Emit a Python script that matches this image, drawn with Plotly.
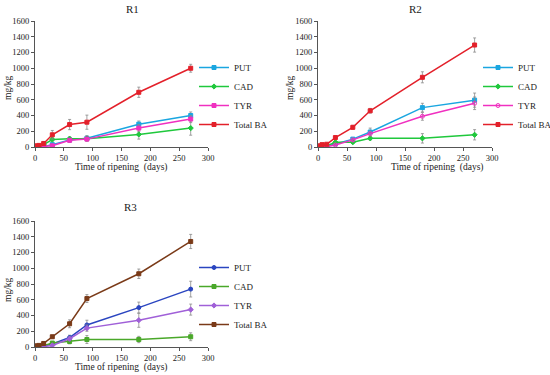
import plotly.graph_objects as go

days = [0, 7, 15, 30, 60, 90, 180, 270]
series_names = ["PUT", "CAD", "TYR", "Total BA"]

# R1
r1_put = [5, 5, 8, 30, 90, 110, 290, 400]
r1_cad = [5, 10, 30, 95, 105, 105, 160, 240]
r1_tyr = [2, 3, 5, 15, 85, 100, 240, 355]
r1_tot = [15, 20, 45, 155, 285, 315, 695, 1000]
r1_put_err = [3, 3, 5, 15, 30, 35, 40, 45]
r1_cad_err = [3, 5, 10, 20, 25, 25, 60, 90]
r1_tyr_err = [2, 2, 3, 10, 20, 20, 45, 45]
r1_tot_err = [8, 10, 15, 55, 65, 90, 65, 50]

# R2
r2_put = [5, 5, 10, 40, 100, 190, 500, 595]
r2_cad = [5, 10, 15, 60, 60, 110, 110, 155]
r2_tyr = [2, 3, 5, 25, 90, 170, 390, 555]
r2_tot = [15, 30, 35, 120, 250, 460, 885, 1295]
r2_put_err = [3, 3, 5, 10, 20, 50, 55, 90]
r2_cad_err = [3, 5, 5, 15, 15, 20, 60, 65]
r2_tyr_err = [2, 2, 3, 10, 20, 30, 50, 80]
r2_tot_err = [8, 10, 10, 20, 25, 30, 70, 90]

# R3
r3_put = [5, 5, 10, 40, 120, 280, 500, 735]
r3_cad = [5, 10, 15, 50, 70, 95, 95, 130]
r3_tyr = [2, 3, 5, 20, 105, 240, 340, 475]
r3_tot = [15, 20, 45, 130, 295, 615, 930, 1340]
r3_put_err = [3, 3, 5, 15, 30, 60, 70, 100]
r3_cad_err = [3, 5, 5, 15, 30, 50, 40, 50]
r3_tyr_err = [2, 2, 3, 10, 25, 40, 90, 70]
r3_tot_err = [8, 10, 10, 20, 50, 50, 60, 90]

panel_titles = ["R1", "R2", "R3"]
x_title = "Time of ripening  (days)"
y_title = "mg/kg"
x_ticks = [0, 50, 100, 150, 200, 250, 300]
y_ticks = [0, 200, 400, 600, 800, 1000, 1200, 1400, 1600]

colors12 = ["#1aa6e0", "#1fc83c", "#f030c0", "#e3202a"]
colors3 = ["#2a45c0", "#4aa82a", "#a060d8", "#7a3a18"]
symbols12 = ["square", "diamond", "square", "square"]
symbols2 = ["square", "diamond", "circle-open", "square"]
symbols3 = ["circle", "square", "diamond", "square"]

panels = [
    ([r1_put, r1_cad, r1_tyr, r1_tot], [r1_put_err, r1_cad_err, r1_tyr_err, r1_tot_err], colors12, symbols12),
    ([r2_put, r2_cad, r2_tyr, r2_tot], [r2_put_err, r2_cad_err, r2_tyr_err, r2_tot_err], colors12, symbols2),
    ([r3_put, r3_cad, r3_tyr, r3_tot], [r3_put_err, r3_cad_err, r3_tyr_err, r3_tot_err], colors3, symbols3),
]

W, H = 550, 375
# plot areas in pixels: (left, right, top, bottom)
areas = [(35, 208, 21, 147), (318, 492, 21, 147), (35, 208, 221, 347)]
legend_pos = [(194, 96), (478, 96), (194, 296)]
title_pos = [(132, 9), (415, 9), (130, 207)]
xlab_pos = [(121, 167), (437, 167), (121, 367)]
ylab_pos = [(8, 88), (290, 88), (8, 290)]

FONT = "Liberation Serif"
fig = go.Figure()
legend_ids = ["legend", "legend2", "legend3"]

for p, (vals, errs, cols, syms) in enumerate(panels):
    ax = "" if p == 0 else str(p + 1)
    for name, v, e, c, s in zip(series_names, vals, errs, cols, syms):
        fig.add_trace(go.Scatter(
            x=days, y=v, name=name, mode="lines+markers",
            line=dict(color=c, width=1.5),
            marker=dict(symbol=s, size=4, color=c, line=dict(color=c, width=1)),
            error_y=dict(type="data", array=e, visible=True, color="#8a8a8a", thickness=0.8, width=1.5),
            xaxis="x" + ax, yaxis="y" + ax, legend=legend_ids[p],
        ))
    l, r, t, b = areas[p]
    axis_common = dict(showline=True, linecolor="#555555", linewidth=1, showgrid=False, zeroline=False,
                       ticks="outside", ticklen=3, tickcolor="#555555", automargin=False,
                       tickfont=dict(family=FONT, size=8.5, color="#222222"))
    fig.update_layout(**{
        "xaxis" + ax: dict(domain=[l / W, r / W], range=[0, 300], tickvals=x_ticks,
                           anchor="y" + ax, **axis_common),
        "yaxis" + ax: dict(domain=[1 - b / H, 1 - t / H], range=[0, 1600], tickvals=y_ticks,
                           anchor="x" + ax, **axis_common),
    })
    lx, ly = legend_pos[p]
    fig.update_layout(**{legend_ids[p]: dict(
        x=lx / W, y=1 - ly / H, xanchor="left", yanchor="middle",
        font=dict(family=FONT, size=9, color="#222222"), bgcolor="rgba(0,0,0,0)",
        itemwidth=30, tracegroupgap=0,
    )})
    tx, ty = title_pos[p]
    fig.add_annotation(text=panel_titles[p], x=tx / W, y=1 - ty / H, xref="paper", yref="paper",
                       xanchor="center", yanchor="middle",
                       showarrow=False, font=dict(family=FONT, size=11, color="#222222"))
    xx, xy = xlab_pos[p]
    fig.add_annotation(text=x_title, x=xx / W, y=1 - xy / H, xref="paper", yref="paper",
                       xanchor="center", yanchor="middle",
                       showarrow=False, font=dict(family=FONT, size=9.5, color="#222222"))
    yx, yy = ylab_pos[p]
    fig.add_annotation(text=y_title, x=yx / W, y=1 - yy / H, xref="paper", yref="paper",
                       xanchor="center", yanchor="middle",
                       showarrow=False, textangle=-90, font=dict(family=FONT, size=9.5, color="#222222"))

fig.update_layout(width=W, height=H, margin=dict(l=0, r=0, t=0, b=0, autoexpand=False),
                  paper_bgcolor="white", plot_bgcolor="white", showlegend=True)

fig.write_html("out.html", config={"displayModeBar": False},
               post_script="document.body.style.margin='0px';document.body.style.overflow='hidden';")
